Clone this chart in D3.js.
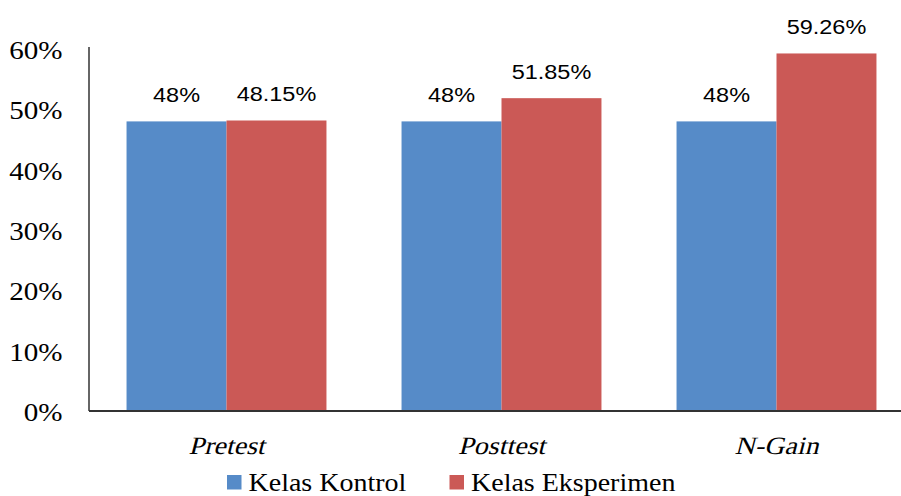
<!DOCTYPE html>
<html>
<head>
<meta charset="utf-8">
<script src="https://cdn.jsdelivr.net/npm/d3@7"></script>
<style>
  html, body { margin: 0; padding: 0; background: #fff; }
  svg { display: block; }
  .serif { font-family: "Liberation Serif"; }
  .value { font-family: "Liberation Sans"; }
</style>
</head>
<body>
<svg id="chart" width="901" height="496"></svg>
<script>
// Chart data
const categories = ["Pretest", "Posttest", "N-Gain"];
const seriesNames = ["Kelas Kontrol", "Kelas Eksperimen"];
const kontrol = [48, 48, 48];
const eksperimen = [48.15, 51.85, 59.26];
const kontrolLabels = ["48%", "48%", "48%"];
const eksperimenLabels = ["48.15%", "51.85%", "59.26%"];
const yTicks = [0, 10, 20, 30, 40, 50, 60];
const colors = ["#568bc8", "#cb5956"];

// Horizontal stretch applied to all text
const SX = 1.12;

const svg = d3.select("#chart");
const plot = { left: 89, right: 914, top: 49, bottom: 411 };

const x = d3.scaleBand()
  .domain(categories)
  .range([plot.left, plot.right])
  .paddingInner(0.273)
  .paddingOuter(0.1365);

const xs = d3.scaleBand()
  .domain(seriesNames)
  .range([0, x.bandwidth()]);

const y = d3.scaleLinear().domain([0, 60]).range([plot.bottom, plot.top]);

const series = [kontrol, eksperimen];
const labels = [kontrolLabels, eksperimenLabels];

// Bars
series.forEach((vals, si) => {
  svg.append("g").selectAll("rect")
    .data(vals)
    .join("rect")
    .attr("x", (d, i) => x(categories[i]) + xs(seriesNames[si]))
    .attr("y", d => y(d))
    .attr("width", xs.bandwidth())
    .attr("height", d => y(0) - y(d))
    .attr("fill", colors[si]);
});

// Y axis
const yAxis = d3.axisLeft(y)
  .tickValues(yTicks)
  .tickFormat(d => d + "%")
  .tickSize(0)
  .tickPadding(0);
const yg = svg.append("g").attr("transform", `translate(${plot.left},0)`).call(yAxis);
yg.attr("font-family", null).attr("font-size", null);
yg.select(".domain").attr("stroke", "#333").attr("stroke-width", 1.5)
  .attr("d", `M0,${plot.top - 2}V${plot.bottom}`);
yg.selectAll("text")
  .attr("class", "serif")
  .style("font-size", "26px")
  .attr("fill", "#000")
  .attr("x", null)
  .attr("dy", null)
  .attr("transform", `translate(-26.5,9.5) scale(${SX},1)`);

// X axis: slanted category names
const xAxis = d3.axisBottom(x).tickSize(0).tickPadding(0);
const xg = svg.append("g").attr("transform", `translate(0,${plot.bottom})`).call(xAxis);
xg.attr("font-family", null).attr("font-size", null);
xg.select(".domain").attr("stroke", "#333").attr("stroke-width", 2)
  .attr("d", `M${plot.left},0H${plot.right}`);
xg.selectAll("text")
  .attr("class", "serif")
  .style("font-size", "25px")
  .attr("fill", "#000")
  .attr("y", null)
  .attr("dy", null)
  .attr("transform", `translate(0,43) scale(${SX},1) skewX(-13)`);

// Value labels above bars
series.forEach((vals, si) => {
  svg.append("g").selectAll("text")
    .data(vals)
    .join("text")
    .attr("class", "value")
    .style("font-size", "21px")
    .attr("fill", "#000")
    .attr("text-anchor", "middle")
    .attr("transform", (d, i) =>
      `translate(${x(categories[i]) + xs(seriesNames[si]) + xs.bandwidth() / 2},${y(d) - 19}) scale(${SX},1)`)
    .text((d, i) => labels[si][i]);
});

// Legend
const legendItems = [{ name: seriesNames[0], x: 227 }, { name: seriesNames[1], x: 449.5 }];
const lg = svg.append("g");
legendItems.forEach((item, i) => {
  lg.append("rect")
    .attr("x", item.x).attr("y", 475)
    .attr("width", 14.5).attr("height", 14.5)
    .attr("fill", colors[i]);
  lg.append("text")
    .attr("class", "serif")
    .style("font-size", "25px")
    .attr("fill", "#000")
    .attr("transform", `translate(${item.x + 21.5},491) scale(${SX},1)`)
    .text(item.name);
});
</script>
</body>
</html>
